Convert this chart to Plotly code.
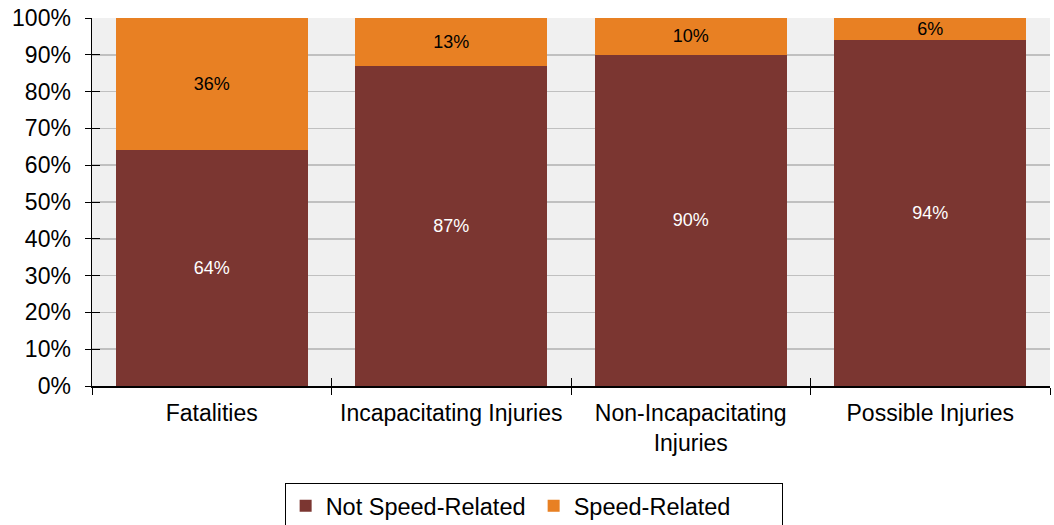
import plotly.graph_objects as go

categories = ["Fatalities", "Incapacitating Injuries", "Non-Incapacitating<br>Injuries", "Possible Injuries"]
not_speed = [64, 87, 90, 94]
speed = [36, 13, 10, 6]
tick_vals = [0, 10, 20, 30, 40, 50, 60, 70, 80, 90, 100]
tick_text = [f"{v}%" for v in tick_vals]

FONT = "Liberation Sans, Arial"

fig = go.Figure()
fig.add_trace(go.Bar(
    x=categories, y=not_speed, name="Not Speed-Related",
    marker=dict(color="#7B3631", line=dict(width=0)),
    text=[f"{v}%" for v in not_speed], textposition="inside",
    insidetextanchor="middle", constraintext="none",
    textfont=dict(color="white", size=18, family=FONT),
    hoverinfo="skip",
))
fig.add_trace(go.Bar(
    x=categories, y=speed, name="Speed-Related",
    marker=dict(color="#E88023", line=dict(width=0)),
    text=[f"{v}%" for v in speed], textposition="inside",
    insidetextanchor="middle", constraintext="none",
    textfont=dict(color="black", size=18, family=FONT),
    hoverinfo="skip",
))
# invisible trace to carry the inner half of the crossing tick marks
fig.add_trace(go.Scatter(
    x=categories, y=not_speed, xaxis="x2", yaxis="y2",
    mode="markers", marker=dict(opacity=0), showlegend=False, hoverinfo="skip",
))

fig.update_layout(
    barmode="stack",
    bargap=0.2,
    width=1054, height=525,
    margin=dict(l=92, r=4, t=18, b=139, autoexpand=False),
    plot_bgcolor="#F0F0F0",
    paper_bgcolor="white",
    font=dict(family=FONT, size=23, color="black"),
    showlegend=True,
    legend=dict(
        orientation="h", x=0.461, xanchor="center",
        yref="container", y=0.08, yanchor="top",
        bordercolor="black", borderwidth=1, font=dict(size=23.5),
        entrywidth=203, traceorder="normal",
    ),
    xaxis2=dict(
        overlaying="x", matches="x", ticks="inside", ticklen=8, tickcolor="black",
        tickwidth=1, tickson="boundaries", showticklabels=False, showline=False, showgrid=False,
    ),
    yaxis2=dict(
        overlaying="y", matches="y", ticks="inside", ticklen=8, tickcolor="black",
        tickwidth=1, tickvals=tick_vals, showticklabels=False, showline=False, showgrid=False,
        zeroline=False,
    ),
    yaxis=dict(
        range=[0, 100], tickvals=tick_vals, ticktext=tick_text,
        showgrid=True, gridcolor="#C0C0C0", gridwidth=1.5,
        showline=True, linecolor="black", linewidth=1.5,
        ticks="outside", ticklen=6, tickcolor="black", tickwidth=1,
        ticklabelstandoff=9, automargin=False, ticklabeloverflow="allow",
        zeroline=False, fixedrange=True,
    ),
    xaxis=dict(
        showline=True, linecolor="black", linewidth=1.5,
        ticks="outside", ticklen=7, tickcolor="black", tickwidth=1,
        tickson="boundaries", showgrid=False, automargin=False,
        ticklabelstandoff=6,
    ),
)
fig.write_html(
    "out.html",
    config={"displayModeBar": False, "staticPlot": True},
    post_script="document.body.style.margin='0';document.body.style.overflow='hidden';",
)
